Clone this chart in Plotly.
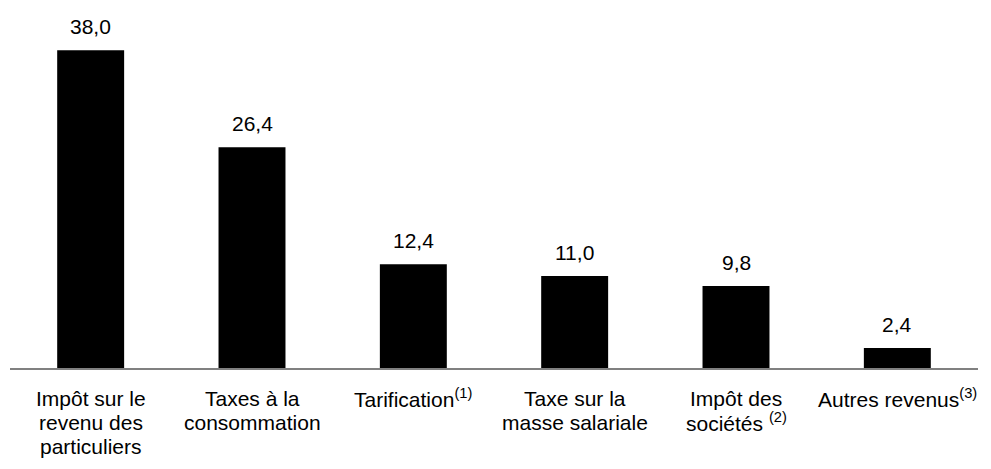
import plotly.graph_objects as go

categories = [
    "Impôt sur le<br>revenu des<br>particuliers",
    "Taxes à la<br>consommation",
    "Tarification<sup>(1)</sup>",
    "Taxe sur la<br>masse salariale",
    "Impôt des<br>sociétés <sup>(2)</sup>",
    "Autres revenus<sup>(3)</sup>",
]
values = [38.0, 26.4, 12.4, 11.0, 9.8, 2.4]
value_labels = [f"{v:.1f}".replace(".", ",") for v in values]

FONT = "Liberation Sans, Arial, sans-serif"
x_idx = list(range(len(categories)))

fig = go.Figure()
fig.add_trace(go.Bar(
    x=x_idx, y=values,
    marker=dict(color="#000000", line=dict(width=0)),
    width=0.415,
    hoverinfo="skip",
))

for i, (v, t) in enumerate(zip(values, value_labels)):
    fig.add_annotation(x=i, y=v, text=t, showarrow=False, yanchor="bottom",
                       yshift=10, font=dict(family=FONT, size=21, color="#000"))

# category labels, one annotation per line for tight line spacing
for i, cat in enumerate(categories):
    for j, line in enumerate(cat.split("<br>")):
        fig.add_annotation(x=i, y=0, text=line, showarrow=False, yanchor="middle",
                           xanchor="center", yshift=-30 - 24 * j,
                           font=dict(family=FONT, size=21, color="#000"))

fig.update_layout(
    width=991, height=469,
    margin=dict(l=2, r=21, t=2, b=109),
    paper_bgcolor="white", plot_bgcolor="white",
    showlegend=False,
    font=dict(family=FONT, size=21, color="#000"),
    xaxis=dict(
        tickmode="array", tickvals=x_idx, showticklabels=False,
        range=[-0.5, len(categories) - 0.5],
        showline=True, linecolor="#808080", linewidth=1.5,
        showgrid=False, zeroline=False, ticks="",
    ),
    yaxis=dict(range=[0, 42.8], visible=False, showgrid=False, zeroline=False),
)

fig.write_html("out.html")
